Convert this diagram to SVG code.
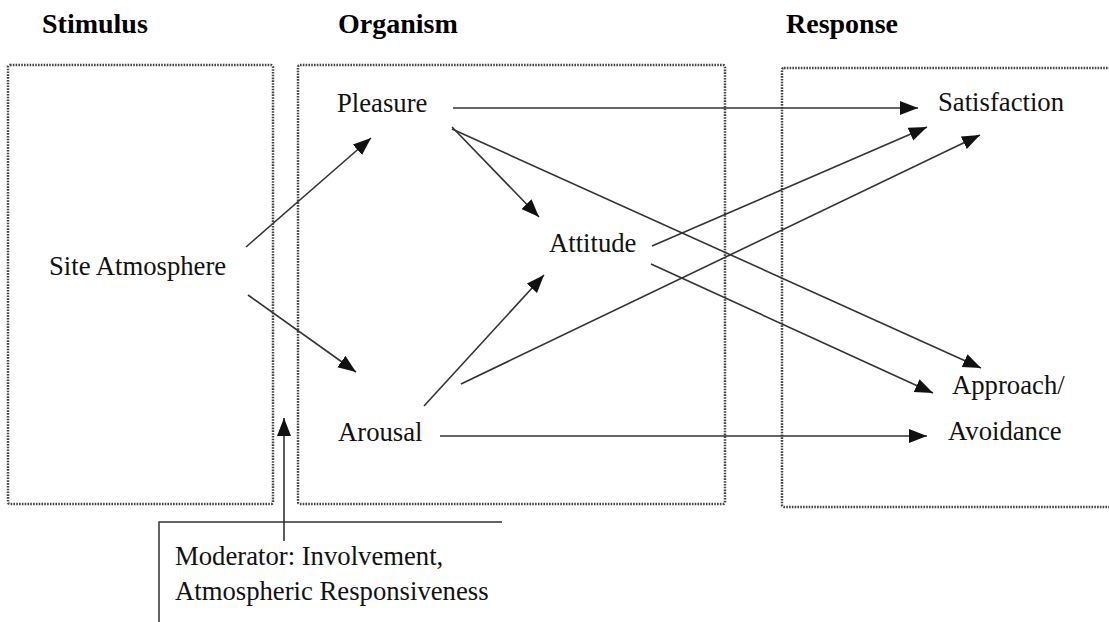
<svg xmlns="http://www.w3.org/2000/svg" width="1109" height="622" viewBox="0 0 1109 622">
<defs>
<marker id="ah" markerUnits="userSpaceOnUse" markerWidth="20" markerHeight="16" refX="18" refY="7" orient="auto">
<path d="M0,0 L18,7 L0,14 Z" fill="#111"/>
</marker>
<style>
text{font-family:'Liberation Serif','Times New Roman',Times,serif}
.t{font-size:26.7px;fill:#111}
.h{font-size:28px;font-weight:bold;fill:#000}
.box{fill:none;stroke:#444;stroke-width:2.5;stroke-dasharray:1.6 1.2}
.c{stroke:#333;stroke-width:1.6;fill:none;marker-end:url(#ah)}
</style>
</defs>
<rect width="1109" height="622" fill="#fff"/>
<g id="headers">
<text class="h" x="42" y="33">Stimulus</text>
<text class="h" x="338" y="33">Organism</text>
<text class="h" x="786" y="33">Response</text>
</g>
<g id="stimulus-box"><rect class="box" x="8" y="65" width="265" height="439" rx="2"/></g>
<g id="organism-box"><rect class="box" x="298" y="65" width="427" height="439" rx="2"/></g>
<g id="response-box"><rect class="box" x="782" y="68" width="340" height="439" rx="2"/></g>
<g id="moderator"><path d="M159,622 V522 H502" fill="none" stroke="#333" stroke-width="1.5"/>
<text class="t" x="175" y="565">Moderator: Involvement,</text>
<text class="t" x="175" y="600">Atmospheric Responsiveness</text></g>
<g id="site-atmosphere"><text class="t" x="49" y="275">Site Atmosphere</text></g>
<g id="pleasure"><text class="t" x="337" y="112">Pleasure</text></g>
<g id="arousal"><text class="t" x="338" y="441">Arousal</text></g>
<g id="attitude"><text class="t" x="549" y="252">Attitude</text></g>
<g id="satisfaction"><text class="t" x="938" y="111">Satisfaction</text></g>
<g id="approach"><text class="t" x="952" y="394">Approach/</text>
<text class="t" x="948" y="440">Avoidance</text></g>
<g id="connectors">
<line class="c" x1="246" y1="247" x2="371" y2="138"/>
<line class="c" x1="248" y1="295" x2="356" y2="372"/>
<line class="c" x1="453" y1="108" x2="918" y2="108"/>
<line class="c" x1="452" y1="127" x2="539" y2="217"/>
<line class="c" x1="452" y1="129" x2="981" y2="368"/>
<line class="c" x1="651" y1="264" x2="933" y2="393"/>
<line class="c" x1="652" y1="246" x2="927" y2="127"/>
<line class="c" x1="424" y1="406" x2="544" y2="275"/>
<line class="c" x1="461" y1="384" x2="980" y2="135"/>
<line class="c" x1="440" y1="436" x2="927" y2="436"/>
<line class="c" x1="284" y1="541" x2="284" y2="418"/>
</g>
</svg>
